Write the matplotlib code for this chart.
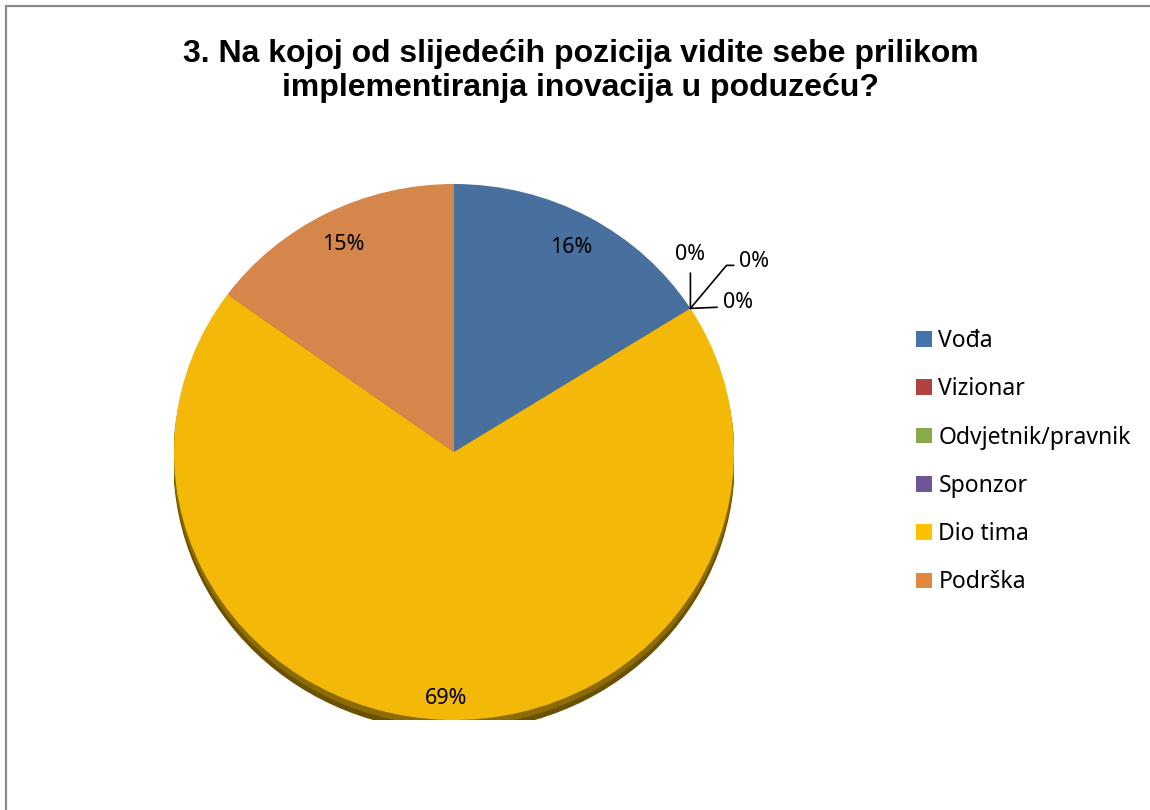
import matplotlib.pyplot as plt
from matplotlib.patches import Patch, Ellipse, Rectangle
import numpy as np

# data
categories = ['Vođa', 'Vizionar', 'Odvjetnik/pravnik', 'Sponzor', 'Dio tima', 'Podrška']
values = [16, 0, 0, 0, 69, 15]
legend_colors = ['#4673aa', '#b0433f', '#8aa84e', '#6f5597', '#ffc000', '#e0883e']
pie_colors = ['#48709f', '#b0433f', '#8aa84e', '#6f5597', '#f3b808', '#d5864a']
title = '3. Na kojoj od slijedećih pozicija vidite sebe prilikom\nimplementiranja inovacija u poduzeću?'

W, H = 1150, 810
fig = plt.figure(figsize=(W / 100, H / 100), dpi=100)

# gray frame on left/top (chart area border)
fig.patches.append(Rectangle((5.5 / W, -0.1), 1.2, 1 - 6.5 / H + 0.1, transform=fig.transFigure,
                             fill=False, edgecolor='#8a8a8a', linewidth=1.6))

fig.text(0.505, 1 - 71 / H, title, ha='center', va='center', fontsize=23,
         fontweight='bold', family='Liberation Sans', linespacing=1.2)

# pie axes (slightly squashed ellipse like the excel chart)
ax = fig.add_axes([174 / W, 1 - 720 / H, 560 / W, 536 / H])

# dark edge under the pie
ax.add_patch(Ellipse((0, -0.04), 2.0, 2.0, color='#6a5000', zorder=0))
ax.add_patch(Ellipse((0, -0.02), 2.0, 2.0, color='#8c6c00', zorder=0))

wedges, _ = ax.pie(values, colors=pie_colors, startangle=90, counterclock=False,
                   radius=1, wedgeprops=dict(linewidth=0), frame=False)
ax.set_xlim(-1, 1)
ax.set_ylim(-1, 1)
ax.set_aspect('auto')
ax.axis('off')

total = sum(values)
lab_font = dict(family='Noto Sans', fontsize=15.5, color='black')
dist = {0: 0.87, 4: 0.92, 5: 0.87}
for i, w in enumerate(wedges):
    if values[i] == 0:
        continue
    mid = np.deg2rad((w.theta1 + w.theta2) / 2)
    d = dist[i]
    ax.text(d * np.cos(mid), d * np.sin(mid), f'{values[i] / total * 100:.0f}%',
            ha='center', va='center', **lab_font)

# zero slices: labels with leader lines from the shared edge point
ang = np.deg2rad(wedges[1].theta1)
ex, ey = np.cos(ang), np.sin(ang)
line_kw = dict(arrowstyle='-', color='black', lw=1.2, shrinkB=0)
ax.annotate('0%', xy=(ex, ey), xytext=(0, 39), textcoords='offset points',
            ha='center', va='center',
            arrowprops=dict(relpos=(0.5, 0), shrinkA=4, **line_kw), **lab_font)
ax.annotate('0%', xy=(ex, ey), xytext=(46, 34), textcoords='offset points',
            ha='center', va='center',
            arrowprops=dict(relpos=(0, 0.3), shrinkA=2,
                            connectionstyle='angle,angleA=0,angleB=50,rad=0', **line_kw),
            **lab_font)
ax.annotate('0%', xy=(ex, ey), xytext=(34, 4), textcoords='offset points',
            ha='center', va='center',
            arrowprops=dict(relpos=(0, 0.3), shrinkA=2, **line_kw), **lab_font)

handles = [Patch(facecolor=c, edgecolor='none') for c in legend_colors]
fig.legend(handles, categories, loc='upper left', bbox_to_anchor=(916 / W, 1 - 329 / H),
           frameon=False, prop=dict(family='Noto Sans', size=16.5),
           handlelength=0.68, handleheight=0.68, handletextpad=0.3,
           labelspacing=1.06, borderaxespad=0, borderpad=0)

fig.savefig('out.png', dpi=100)
